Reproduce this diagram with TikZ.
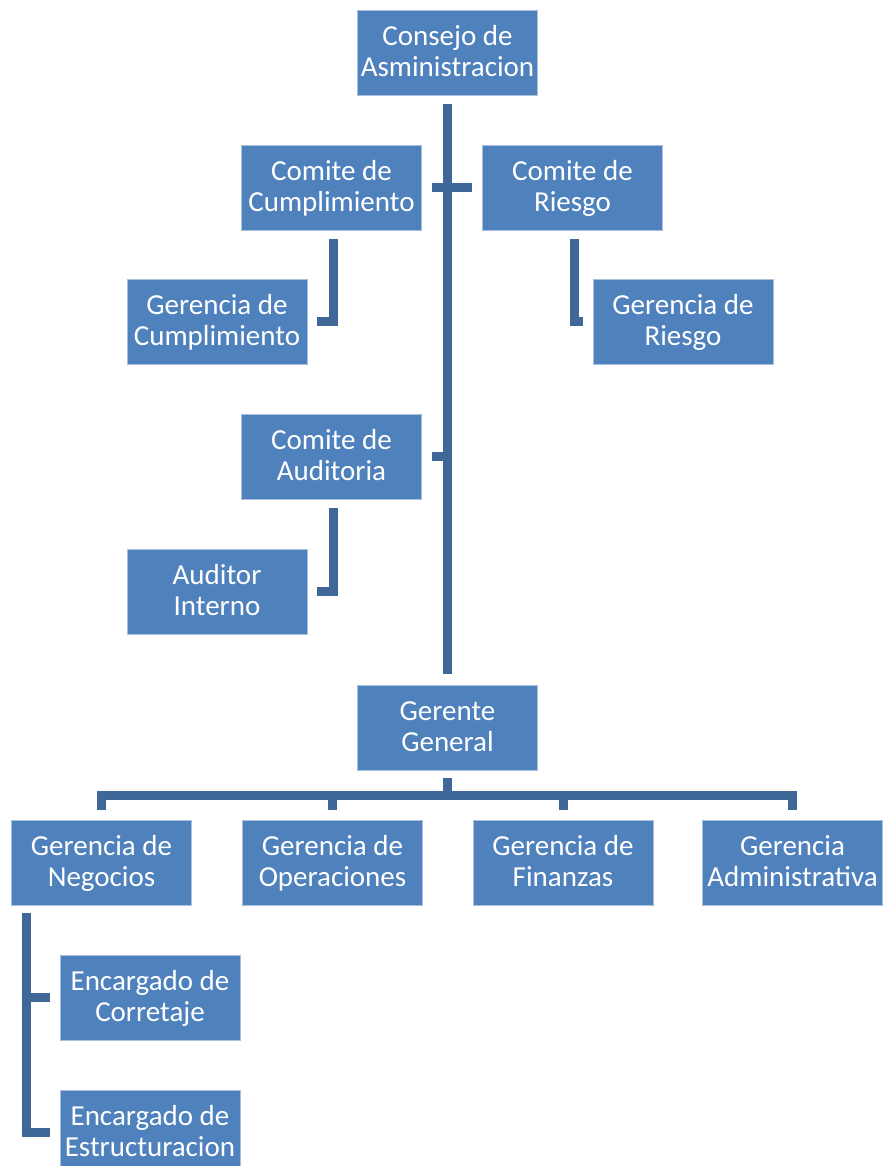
\documentclass[tikz,border=0pt]{standalone}
\usepackage{fontspec}
\setmainfont{Carlito}
\usetikzlibrary{calc}
\definecolor{boxblue}{HTML}{4F81BD}
\definecolor{boxedge}{HTML}{A9C0DE}
\definecolor{linkblue}{HTML}{3F6899}
\newcommand{\twolines}[2]{\rule{0pt}{25.5bp}#1\\#2\rule[-9.3bp]{0pt}{9.3bp}}
\tikzset{
  orgbox/.style={rectangle, fill=boxblue, draw=boxedge, line width=0.8bp,
    minimum width=180bp, minimum height=85bp, inner sep=0pt,
    text=white, align=center, font=\fontsize{29bp}{31bp}\selectfont},
  conn/.style={draw=linkblue, line width=9bp, line join=miter, line cap=butt}
}
\begin{document}
\begin{tikzpicture}[x=1bp, y=-1bp]
\useasboundingbox (0,0) rectangle (885,1166);
\node[orgbox] (C)  at (447.5,53)    {\twolines{Consejo de}{Asministracion}};
\node[orgbox] (CC) at (331.5,187.5) {\twolines{Comite de}{Cumplimiento}};
\node[orgbox] (CR) at (572.5,187.5) {\twolines{Comite de}{Riesgo}};
\node[orgbox] (GC) at (217,321.5)   {\twolines{Gerencia de}{Cumplimiento}};
\node[orgbox] (GR) at (683,321.5)   {\twolines{Gerencia de}{Riesgo}};
\node[orgbox] (CA) at (331.5,456.5) {\twolines{Comite de}{Auditoria}};
\node[orgbox] (AI) at (217,591.5)   {\twolines{Auditor}{Interno}};
\node[orgbox] (GG) at (447.5,727.5) {\twolines{Gerente}{General}};
\node[orgbox] (GN) at (101.5,862.5) {\twolines{Gerencia de}{Negocios}};
\node[orgbox] (GO) at (332.5,862.5) {\twolines{Gerencia de}{Operaciones}};
\node[orgbox] (GF) at (563,862.5)   {\twolines{Gerencia de}{Finanzas}};
\node[orgbox] (GA) at (792.5,862.5) {\twolines{Gerencia}{Administrativa}};
\node[orgbox] (EC) at (150,997.5)   {\twolines{Encargado de}{Corretaje}};
\node[orgbox] (EE) at (150,1132.5)  {\twolines{Encargado de}{Estructuracion}};
% main spine
\draw[conn] ([yshift=-8bp]C.south) -- ([yshift=11bp]GG.north);
\draw[conn] ([xshift=10bp]CC.east) -- ([xshift=-10bp]CR.west);
\draw[conn] ([xshift=10bp]CA.east) -- (CA.east -| C.south);
% committees to managements
\draw[conn] ([xshift=1.5bp,yshift=-9bp]CC.south) |- ([xshift=10bp]GC.east);
\draw[conn] ([xshift=1.5bp,yshift=-9bp]CR.south) |- ([xshift=-10bp]GR.west);
\draw[conn] ([xshift=1.5bp,yshift=-9bp]CA.south) |- ([xshift=10bp]AI.east);
% general manager to departments
\coordinate (bar) at (0,795);
\draw[conn] ([yshift=-8bp]GG.south) -- (GG.south |- bar);
\draw[conn] ([yshift=10bp]GN.north) -- (GN.north |- bar) -- (GA.north |- bar) -- ([yshift=10bp]GA.north);
\draw[conn] (GO.north |- bar) -- ([yshift=10bp]GO.north);
\draw[conn] (GF.north |- bar) -- ([yshift=10bp]GF.north);
% business to officers
\coordinate (nv) at ([xshift=15bp,yshift=-8bp]GN.south west);
\draw[conn] (nv) |- ([xshift=-10bp]EE.west);
\draw[conn] (EC.west -| nv) -- ([xshift=-10bp]EC.west);
\end{tikzpicture}
\end{document}
